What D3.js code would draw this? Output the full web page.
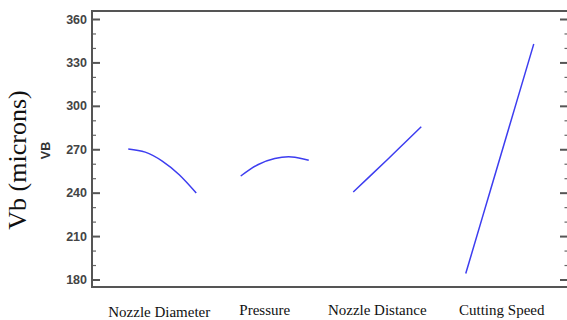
<!DOCTYPE html>
<html>
<head>
<meta charset="utf-8">
<script src="https://cdnjs.cloudflare.com/ajax/libs/d3/7.8.5/d3.min.js"></script>
<style>
  body { margin: 0; background: #fff; }
  svg { display: block; }
</style>
</head>
<body>
<svg id="chart" width="567" height="320"></svg>
<script>
// factors and coded levels (-1 .. +1)
const factors = ['Nozzle Diameter', 'Pressure', 'Nozzle Distance', 'Cutting Speed'];
const levels = [-1, -0.5, 0, 0.5, 1];

// predicted Vb at each level, one row per factor
const vbNozzleDiameter = [270.2, 268.0, 261.8, 252.4, 239.8];
const vbPressure = [251.5, 259.3, 263.6, 264.7, 262.4];
const vbNozzleDistance = [240.5, 251.6, 262.8, 274.2, 285.6];
const vbCuttingSpeed = [184.1, 223.8, 263.4, 303.1, 342.7];
const series = [vbNozzleDiameter, vbPressure, vbNozzleDistance, vbCuttingSpeed];

const majorTicks = [180, 210, 240, 270, 300, 330, 360];
const minorTicks = [190, 200, 220, 230, 250, 260, 280, 290, 310, 320, 340, 350];

const svg = d3.select('#chart');
const plotL = 92, plotR = 567, plotT = 11, plotB = 287;
const half = 34; // half width of each factor trace
const labelDx = [-3, -10, -10, 2]; // nudges for x labels
const labelY = [317, 315, 315, 315];

const y = d3.scaleLinear().domain([180, 360]).range([279.5, 19]);
const x = d3.scaleBand().domain(factors).range([106, 556]).paddingInner(0).paddingOuter(0);

//左轴，刻度向内
const axisL = d3.axisLeft(y).tickValues(majorTicks).tickSize(-8).tickSizeOuter(0).tickPadding(5);
const gL = svg.append('g').attr('transform', `translate(${plotL},0)`).call(axisL);
gL.select('.domain').remove();
gL.selectAll('.tick line').attr('stroke', '#555').attr('stroke-width', 2);
gL.selectAll('.tick text')
  .attr('fill', '#444')
  .attr('font-family', 'Liberation Sans, Arial, sans-serif')
  .attr('font-weight', 'bold')
  .attr('font-size', 12.5);

const gLm = svg.append('g').attr('transform', `translate(${plotL},0)`)
  .call(d3.axisLeft(y).tickValues(minorTicks).tickSize(-4).tickSizeOuter(0).tickFormat(''));
gLm.select('.domain').remove();
gLm.selectAll('.tick line').attr('stroke', '#666').attr('stroke-width', 1.2);

//右轴，只有刻度
const gR = svg.append('g').attr('transform', `translate(${plotR},0)`)
  .call(d3.axisRight(y).tickValues(majorTicks).tickSize(-7).tickSizeOuter(0).tickFormat(''));
gR.select('.domain').remove();
gR.selectAll('.tick line').attr('stroke', '#555').attr('stroke-width', 2);
const gRm = svg.append('g').attr('transform', `translate(${plotR},0)`)
  .call(d3.axisRight(y).tickValues(minorTicks).tickSize(-2.5).tickSizeOuter(0).tickFormat(''));
gRm.select('.domain').remove();
gRm.selectAll('.tick line').attr('stroke', '#666').attr('stroke-width', 1.2);

// frame
const frame = svg.append('g').attr('stroke', '#555').attr('stroke-width', 2).attr('fill', 'none');
frame.append('path').attr('d', `M${plotL},${plotT}H${plotR}`);
frame.append('path').attr('d', `M${plotL},${plotB}H${plotR}`);
frame.append('path').attr('d', `M${plotL},${plotT - 1}V${plotB + 1}`);

// traces
factors.forEach((f, i) => {
  const cx = x(f) + x.bandwidth() / 2;
  const xs = d3.scaleLinear().domain([-1, 1]).range([cx - half, cx + half]);
  const line = d3.line()
    .x((d, j) => xs(levels[j]))
    .y(d => y(d))
    .curve(d3.curveNatural);
  svg.append('path')
    .datum(series[i])
    .attr('d', line)
    .attr('fill', 'none')
    .attr('stroke', '#3d3df0')
    .attr('stroke-width', 1.5);

  svg.append('text')
    .attr('x', cx + labelDx[i])
    .attr('y', labelY[i])
    .attr('text-anchor', 'middle')
    .attr('font-family', 'Liberation Serif, Times New Roman, serif')
    .attr('font-size', 15)
    .attr('fill', '#111')
    .text(f);
});

// y titles
svg.append('text')
  .attr('transform', 'translate(26,160) rotate(-90)')
  .attr('text-anchor', 'middle')
  .attr('font-family', 'Liberation Serif, Times New Roman, serif')
  .attr('font-size', 26)
  .attr('fill', '#111')
  .text('Vb (microns)');

svg.append('text')
  .attr('transform', 'translate(50,150.5) rotate(-90)')
  .attr('text-anchor', 'middle')
  .attr('font-family', 'Liberation Sans, Arial, sans-serif')
  .attr('font-weight', 'bold')
  .attr('font-size', 12.5)
  .attr('fill', '#333')
  .text('VB');
</script>
</body>
</html>
